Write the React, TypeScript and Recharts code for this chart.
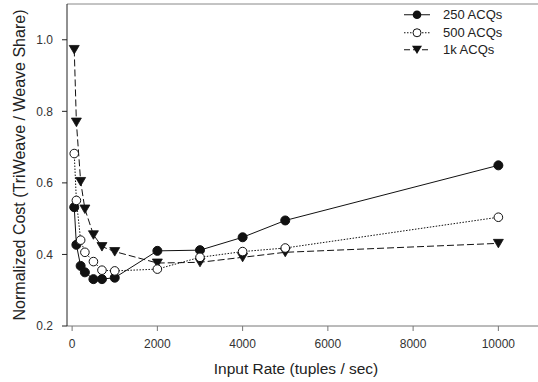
import { LineChart, Line, XAxis, YAxis, ReferenceLine, Legend, Label } from "recharts";

const rates = [50, 100, 200, 300, 500, 700, 1000, 2000, 3000, 4000, 5000, 10000];
const acq250 = [0.532, 0.427, 0.368, 0.35, 0.331, 0.331, 0.335, 0.41, 0.412, 0.448, 0.495, 0.649];
const acq500 = [0.682, 0.551, 0.44, 0.406, 0.38, 0.356, 0.354, 0.359, 0.392, 0.408, 0.418, 0.504];
const acq1k = [0.973, 0.77, 0.604, 0.527, 0.455, 0.422, 0.408, 0.376, 0.378, 0.392, 0.406, 0.431];
const xTicks = [0, 2000, 4000, 6000, 8000, 10000];
const yTicks = [0.2, 0.4, 0.6, 0.8, 1.0];

const data = rates.map((r, i) => ({ rate: r, a250: acq250[i], a500: acq500[i], a1k: acq1k[i] }));

const FONT = "'Liberation Sans', Arial, sans-serif";

const FilledDot = (p: any) => (
  <circle key={p.index} cx={p.cx} cy={p.cy} r={4.5} fill="#111" stroke="#111" strokeWidth={1} />
);
const OpenDot = (p: any) => (
  <circle key={p.index} cx={p.cx} cy={p.cy} r={4.3} fill="#fff" stroke="#111" strokeWidth={1} />
);
const TriDot = (p: any) => (
  <path
    key={p.index}
    d={`M${p.cx - 5},${p.cy - 4} L${p.cx + 5},${p.cy - 4} L${p.cx},${p.cy + 4.5} Z`}
    fill="#111"
    stroke="#111"
    strokeWidth={0.8}
  />
);

const legendItems = [
  { name: "250 ACQs", dash: undefined, marker: "filled" },
  { name: "500 ACQs", dash: "1.5 1.5", marker: "open" },
  { name: "1k ACQs", dash: "6 3", marker: "tri" },
];

function LegendBox() {
  return (
    <div style={{ fontFamily: FONT, fontSize: 13, color: "#222" }}>
      {legendItems.map((it) => (
        <div key={it.name} style={{ display: "flex", alignItems: "center", height: 17.5 }}>
          <svg width={39} height={17.5}>
            <line x1={0} y1={8.75} x2={26} y2={8.75} stroke="#111" strokeWidth={1} strokeDasharray={it.dash} />
            {it.marker === "filled" && <circle cx={13} cy={8.75} r={4.3} fill="#111" />}
            {it.marker === "open" && <circle cx={13} cy={8.75} r={4} fill="#fff" stroke="#111" />}
            {it.marker === "tri" && <path d="M8,4.75 L18,4.75 L13,13 Z" fill="#111" />}
          </svg>
          <span>{it.name}</span>
        </div>
      ))}
    </div>
  );
}

export default function App() {
  return (
    <div style={{ position: "absolute", left: 0, top: 0, width: 538, height: 382, overflow: "hidden", background: "#fff" }}>
      <LineChart width={548} height={382} data={data} margin={{ top: 4, right: 7, left: 0, bottom: 6 }}>
        <XAxis
          dataKey="rate"
          type="number"
          domain={[-120, 11000]}
          ticks={xTicks}
          allowDataOverflow
          height={50}
          tickSize={5}
          tickMargin={8}
          stroke="#777"
          tick={{ fontSize: 12, fill: "#333", fontFamily: FONT }}
        >
          <Label
            content={(p: any) => (
              <text
                x={p.viewBox.x + p.viewBox.width / 2 - 8}
                y={p.viewBox.y + 48}
                textAnchor="middle"
                fontSize={15.5}
                fontFamily={FONT}
                fill="#222"
              >
                Input Rate (tuples / sec)
              </text>
            )}
          />
        </XAxis>
        <YAxis
          type="number"
          domain={[0.2, 1.1]}
          ticks={yTicks}
          allowDataOverflow
          width={67}
          tickSize={5}
          tickMargin={9}
          stroke="#222"
          tickFormatter={(v: number) => v.toFixed(1)}
          tick={{ fontSize: 12, fill: "#333", fontFamily: FONT }}
        >
          <Label
            content={(p: any) => {
              const cx = p.viewBox.x + 19;
              const cy = p.viewBox.y + p.viewBox.height / 2;
              return (
                <text
                  x={cx}
                  y={cy}
                  transform={`rotate(-90, ${cx}, ${cy})`}
                  textAnchor="middle"
                  dominantBaseline="central"
                  fontSize={16}
                  fontFamily={FONT}
                  fill="#222"
                >
                  Normalized Cost (TriWeave / Weave Share)
                </text>
              );
            }}
          />
        </YAxis>
        <ReferenceLine y={1.1} stroke="#888" strokeWidth={1} />
        <Line dataKey="a1k" stroke="#111" strokeWidth={1} strokeDasharray="7 3" dot={TriDot} isAnimationActive={false} />
        <Line dataKey="a250" stroke="#111" strokeWidth={1} dot={FilledDot} isAnimationActive={false} />
        <Line dataKey="a500" stroke="#111" strokeWidth={1} strokeDasharray="1.5 1.5" dot={OpenDot} isAnimationActive={false} />
        <Legend
          layout="vertical"
          align="center"
          verticalAlign="middle"
          wrapperStyle={{ top: 6, left: 404, width: 130, height: "auto" }}
          content={() => <LegendBox />}
        />
      </LineChart>
    </div>
  );
}
